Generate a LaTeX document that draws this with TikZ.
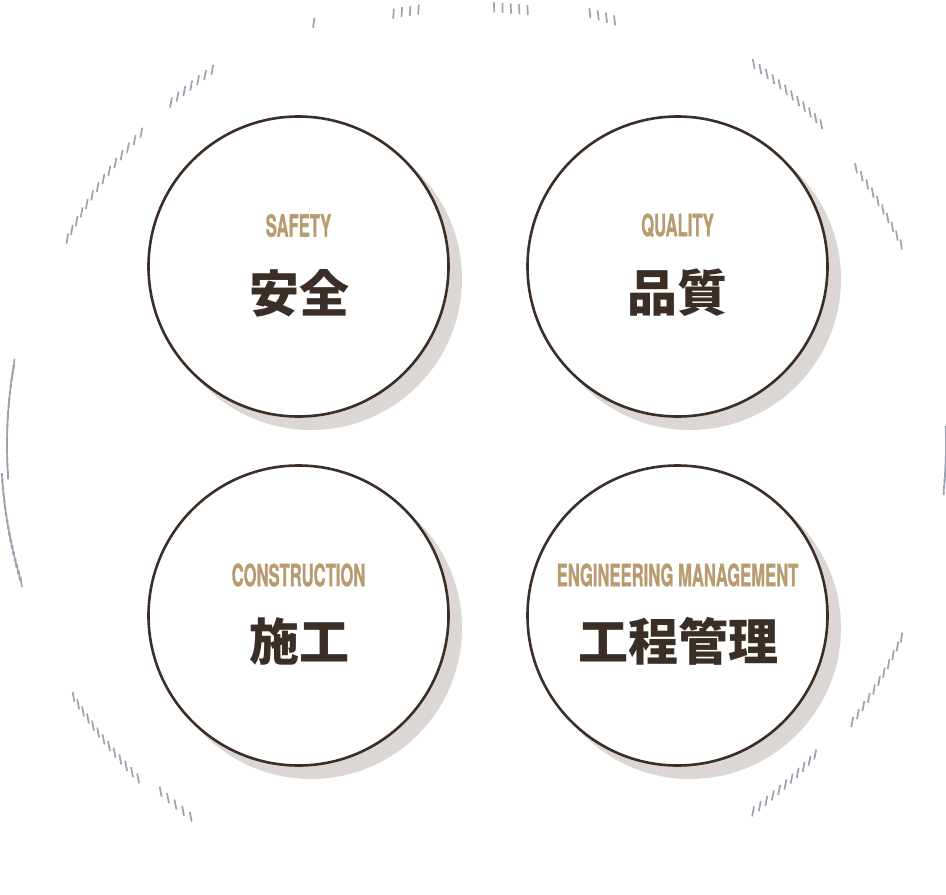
\documentclass[tikz,border=0pt]{standalone}
\usepackage{fontspec}
\usepackage{graphicx}
\newfontfamily\jpfont{Noto Sans CJK JP}
\newfontfamily\labfont[FakeBold=1.2]{TeX Gyre Heros}
\definecolor{ringc}{HTML}{9AA3B0}
\definecolor{brownc}{HTML}{3A2E27}
\definecolor{shadowc}{HTML}{DCD7D5}
\definecolor{tanc}{HTML}{B89B6E}
\tikzset{
  tick/.style={draw=ringc, line width=1.7pt},
  bubble/.style={circle, draw=brownc, line width=2.6pt, fill=white, minimum size=300pt, inner sep=0pt},
  bshadow/.style={circle, fill=shadowc, minimum size=302pt, inner sep=0pt},
  enlabel/.style={text=tanc, inner sep=0pt, font=\labfont\bfseries\fontsize{30.5}{30}\selectfont},
  jplabel/.style={text=brownc, inner sep=0pt, font=\jpfont\bfseries\fontsize{50}{50}\selectfont}
}
\newcommand{\narrow}[1]{\scalebox{0.545}[1]{#1}}
\begin{document}
\begin{tikzpicture}[x=1pt,y=-1pt]
\useasboundingbox (0,0) rectangle (946,895);
% ring of ticks
\foreach \s/\e/\r/\st in {71.8/76.1/447/1.1, 83.1/87.6/438/1.1, 97.4/100.8/439/1.1, 110.9/110.9/452/1,
  125/132.2/458/1.1, 136.9/153.5/457/1.25, 170/184/468/0.8, 184/197/474/0.8, 212.1/224.7/474/1.05, 227.8/233.4/468/1.2,
  307.2/318.3/460/1.05, 323.7/335.8/468/1.2, -5.5/1.8/471/0.8, 25.2/37/471/1.2, 42.8/53.8/472/1.0}{
  \pgfmathtruncatemacro\n{(\e-\s)/\st}
  \foreach \i in {0,...,\n}{
    \pgfmathsetmacro\a{\s+\i*\st}
    \pgfmathsetmacro\k{-0.2*sin(2*\a)}
    \draw[tick] ({475+\r*cos(\a)-5*\k},{445-\r*sin(\a)+5}) -- ++({10*\k},-10);
  }
}
% shadows
\node[bshadow] (s1) at (311,279) {};
\node[bshadow] (s2) at (690,279) {};
\node[bshadow] (s3) at (311,628) {};
\node[bshadow] (s4) at (690,628) {};
% circles
\node[bubble] (c1) at (298.5,266.5) {};
\node[bubble] (c2) at (677.5,266.5) {};
\node[bubble] (c3) at (298.5,615.5) {};
\node[bubble] (c4) at (677.5,615.5) {};
% labels
\node[enlabel] (e1) at (298.5,225.5) {\narrow{SAFETY}};
\node[enlabel] (e2) at (677.5,225.5) {\narrow{QUALITY}};
\node[enlabel] (e3) at (298.5,575) {\narrow{CONSTRUCTION}};
\node[enlabel] (e4) at (677.5,575) {\narrow{ENGINEERING MANAGEMENT}};
\node[jplabel] (j1) at (299,293) {安全};
\node[jplabel] (j2) at (677.5,293) {品質};
\node[jplabel] (j3) at (299,641) {施工};
\node[jplabel] (j4) at (678,641) {工程管理};
\end{tikzpicture}
\end{document}
